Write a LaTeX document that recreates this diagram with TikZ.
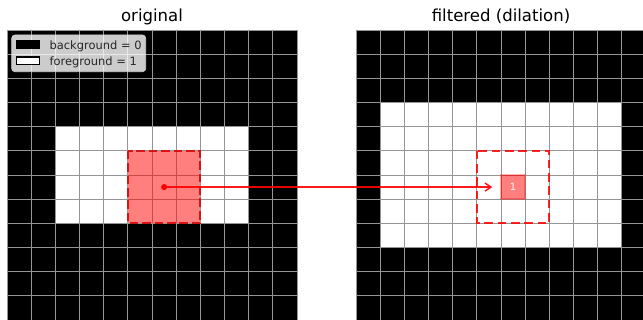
\documentclass[tikz,border=0pt]{standalone}
\usepackage{fontspec}
\setmainfont{DejaVu Sans}
\usetikzlibrary{arrows.meta}
\definecolor{gridc}{HTML}{959595}
\definecolor{legedge}{HTML}{CCCCCC}
\begin{document}
\begin{tikzpicture}[x=0.75pt,y=-0.75pt,
  gridline/.style={draw=gridc, line width=0.65pt},
  panelbg/.style={fill=black},
  fgcells/.style={fill=white},
  titletext/.style={font=\fontsize{12.4pt}{14pt}\selectfont, anchor=base, inner sep=0pt},
  legtext/.style={font=\fontsize{8.6pt}{10pt}\selectfont, anchor=base west, inner sep=0pt, text=black!85},
  legbox/.style={fill=white, fill opacity=0.8, draw=legedge, line width=0.6pt, rounded corners=2.5pt},
  kernelbox/.style={fill=red, fill opacity=0.5, draw=red!85!black, draw opacity=0.85, line width=1.6pt, dash pattern=on 6.5pt off 2.8pt},
  footprint/.style={draw=red, draw opacity=0.85, line width=1.6pt, dash pattern=on 6.5pt off 3.5pt},
  outcell/.style={fill=red, fill opacity=0.5, draw=red, draw opacity=0.3, line width=1.1pt, minimum size=18.1pt, inner sep=0pt, text=white, text opacity=0.9, font=\fontsize{7.5pt}{8pt}\selectfont},
  centerdot/.style={circle, fill=red, inner sep=0pt, minimum size=4.6pt},
  maparrow/.style={draw=red, draw opacity=0.9, line width=1.1pt, -{Straight Barb[length=4.5pt,width=6pt]}}]
\useasboundingbox (0,0) rectangle (643,320);
\clip (0,0) rectangle (643,320);
\def\s{24.1667}
% ---------- left panel: original ----------
\fill[panelbg] (7,30) rectangle (297,320);
\fill[fgcells] (7+2*\s,30+4*\s) rectangle (7+10*\s,30+8*\s);
\foreach \i in {0,...,12} {
  \draw[gridline] (7+\i*\s,30) -- (7+\i*\s,320);
  \draw[gridline] (7,30+\i*\s) -- (297,30+\i*\s);
}
% ---------- right panel: dilation ----------
\fill[panelbg] (356,30) rectangle (646,320);
\fill[fgcells] (356+1*\s,30+3*\s) rectangle (356+11*\s,30+9*\s);
\foreach \i in {0,...,12} {
  \draw[gridline] (356+\i*\s,30) -- (356+\i*\s,320);
  \draw[gridline] (356,30+\i*\s) -- (646,30+\i*\s);
}
% ---------- titles ----------
\node[titletext] (t1) at (152,22) {original};
\node[titletext] (t2) at (501,22) {filtered (dilation)};
% ---------- legend ----------
\draw[legbox] (11.7,35) rectangle (145.7,71.7);
\fill[black] (16,40) rectangle (40,48.6);
\draw[fill=white, draw=black, line width=0.8pt] (16.4,57) rectangle (39.6,64.4);
\node[legtext] (l1) at (49.3,49.3) {background = 0};
\node[legtext] (l2) at (49.3,65.8) {foreground = 1};
% ---------- kernel window ----------
\draw[kernelbox] (7+5*\s,30+5*\s) rectangle (7+8*\s,30+8*\s);
\draw[footprint] (356+5*\s,30+5*\s) rectangle (356+8*\s,30+8*\s);
\node[centerdot] (src) at (7+6.5*\s,30+6.5*\s) {};
\node[outcell] (dst) at (356+6.5*\s,30+6.5*\s) {1};
\draw[maparrow, shorten >=6pt] (src.center) -- (dst.west);
\end{tikzpicture}
\end{document}
